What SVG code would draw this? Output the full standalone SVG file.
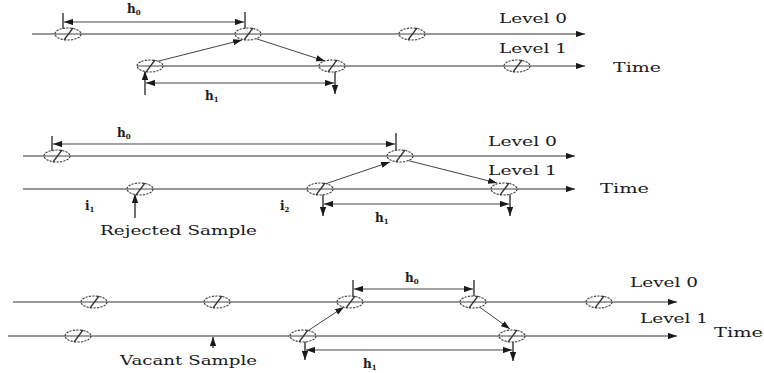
<svg xmlns="http://www.w3.org/2000/svg" width="764" height="373" viewBox="0 0 764 373">
  <defs>
    <marker id="ah" viewBox="0 0 10 7" refX="10" refY="3.5" markerWidth="9" markerHeight="6.5" markerUnits="userSpaceOnUse" orient="auto-start-reverse">
      <path d="M0,0 L10,3.5 L0,7 z" fill="#1a1a1a"/>
    </marker>
    <!-- sample glyph: dashed ellipse with a slash -->
    <g id="sample">
      <ellipse cx="0" cy="0" rx="13" ry="6" fill="#fff" stroke="#444" stroke-width="1.2" stroke-dasharray="2.2 1.2"/>
      <line x1="-13" y1="0" x2="13" y2="0" stroke="#444" stroke-width="1"/>
      <line x1="-4" y1="6" x2="5" y2="-6" stroke="#333" stroke-width="1.3"/>
    </g>
  </defs>
  <style>
    .axis { stroke: #333; stroke-width: 1.2; fill: none; }
    .dim { stroke: #444; stroke-width: 1; fill: none; }
    .tick { stroke: #222; stroke-width: 1.3; fill: none; }
    .lbl { font-family: "DejaVu Serif", "Liberation Serif", serif; font-size: 12.5px; fill: #1a1a1a; }
    .sym { font-family: "DejaVu Serif", "Liberation Serif", serif; font-size: 12px; font-weight: bold; fill: #1a1a1a; }
    .sub { font-size: 7px; }
  </style>
  <rect width="764" height="373" fill="#fff"/>

  <!-- time axes and all connectors -->
  <g id="connectors">
    <!-- panel 1 -->
    <line class="axis" x1="32" y1="34" x2="585" y2="34" marker-end="url(#ah)"/>
    <line class="axis" x1="137" y1="66" x2="585" y2="66" marker-end="url(#ah)"/>
    <line class="tick" x1="63" y1="13" x2="63" y2="30"/>
    <line class="tick" x1="245" y1="12" x2="245" y2="29"/>
    <line class="dim" x1="64" y1="22" x2="244" y2="22" marker-start="url(#ah)" marker-end="url(#ah)"/>
    <line class="dim" x1="155" y1="62" x2="242" y2="40" marker-end="url(#ah)"/>
    <line class="dim" x1="254" y1="38" x2="325" y2="61" marker-end="url(#ah)"/>
    <line class="tick" x1="145" y1="95" x2="145" y2="71" marker-end="url(#ah)"/>
    <line class="dim" x1="146" y1="83" x2="334" y2="83" marker-start="url(#ah)" marker-end="url(#ah)"/>
    <line class="tick" x1="335" y1="70" x2="335" y2="94" marker-end="url(#ah)"/>

    <!-- panel 2 -->
    <line class="axis" x1="23" y1="156" x2="575" y2="156" marker-end="url(#ah)"/>
    <line class="axis" x1="23" y1="189" x2="575" y2="189" marker-end="url(#ah)"/>
    <line class="tick" x1="52" y1="136" x2="52" y2="151"/>
    <line class="tick" x1="396" y1="133" x2="396" y2="150"/>
    <line class="dim" x1="53" y1="144" x2="395" y2="144" marker-start="url(#ah)" marker-end="url(#ah)"/>
    <line class="dim" x1="322" y1="185" x2="390" y2="162" marker-end="url(#ah)"/>
    <line class="dim" x1="406" y1="160" x2="497" y2="183" marker-end="url(#ah)"/>
    <line class="tick" x1="135" y1="218" x2="135" y2="194" marker-end="url(#ah)"/>
    <line class="tick" x1="323" y1="190" x2="323" y2="216" marker-end="url(#ah)"/>
    <line class="dim" x1="324" y1="204" x2="509" y2="204" marker-start="url(#ah)" marker-end="url(#ah)"/>
    <line class="tick" x1="510" y1="190" x2="510" y2="216" marker-end="url(#ah)"/>

    <!-- panel 3 -->
    <line class="axis" x1="13" y1="302" x2="677" y2="302" marker-end="url(#ah)"/>
    <line class="axis" x1="8" y1="336" x2="677" y2="336" marker-end="url(#ah)"/>
    <line class="tick" x1="353" y1="280" x2="353" y2="297"/>
    <line class="tick" x1="474" y1="280" x2="474" y2="297"/>
    <line class="dim" x1="354" y1="289" x2="473" y2="289" marker-start="url(#ah)" marker-end="url(#ah)"/>
    <line class="dim" x1="306" y1="332" x2="344" y2="307" stroke-width="1.3" marker-end="url(#ah)"/>
    <line class="dim" x1="478" y1="306" x2="510" y2="329" stroke-width="1.3" marker-end="url(#ah)"/>
    <line class="tick" x1="213" y1="348" x2="213" y2="337" marker-end="url(#ah)"/>
    <line class="tick" x1="305" y1="338" x2="305" y2="360" marker-end="url(#ah)"/>
    <line class="dim" x1="306" y1="350" x2="512" y2="350" marker-start="url(#ah)" marker-end="url(#ah)"/>
    <line class="tick" x1="513" y1="338" x2="513" y2="361" marker-end="url(#ah)"/>
  </g>

  <!-- panel 1 samples -->
  <g id="p1-l0-s1"><use href="#sample" x="68" y="34"/></g>
  <g id="p1-l0-s2"><use href="#sample" x="248" y="34"/></g>
  <g id="p1-l0-s3"><use href="#sample" x="412" y="34"/></g>
  <g id="p1-l1-s1"><use href="#sample" x="150" y="66"/></g>
  <g id="p1-l1-s2"><use href="#sample" x="332" y="66"/></g>
  <g id="p1-l1-s3"><use href="#sample" x="517" y="66"/></g>

  <!-- panel 2 samples -->
  <g id="p2-l0-s1"><use href="#sample" x="57" y="156"/></g>
  <g id="p2-l0-s2"><use href="#sample" x="400" y="156"/></g>
  <g id="p2-l1-s1"><use href="#sample" x="140" y="189"/></g>
  <g id="p2-l1-s2"><use href="#sample" x="320" y="189"/></g>
  <g id="p2-l1-s3"><use href="#sample" x="504" y="189"/></g>

  <!-- panel 3 samples -->
  <g id="p3-l0-s1"><use href="#sample" x="94" y="302"/></g>
  <g id="p3-l0-s2"><use href="#sample" x="217" y="302"/></g>
  <g id="p3-l0-s3"><use href="#sample" x="350" y="302"/></g>
  <g id="p3-l0-s4"><use href="#sample" x="473" y="302"/></g>
  <g id="p3-l0-s5"><use href="#sample" x="599" y="302"/></g>
  <g id="p3-l1-s1"><use href="#sample" x="78" y="336"/></g>
  <g id="p3-l1-s2"><use href="#sample" x="303" y="336"/></g>
  <g id="p3-l1-s3"><use href="#sample" x="512" y="336"/></g>

  <!-- labels -->
  <g id="labels-1">
    <text class="sym" x="127" y="13">h<tspan class="sub" dy="2">0</tspan></text>
    <text class="sym" x="205" y="100">h<tspan class="sub" dy="2">1</tspan></text>
    <text class="lbl" x="499" y="23" textLength="68" lengthAdjust="spacingAndGlyphs">Level 0</text>
    <text class="lbl" x="499" y="53" textLength="68" lengthAdjust="spacingAndGlyphs">Level 1</text>
    <text class="lbl" x="613" y="72" textLength="48" lengthAdjust="spacingAndGlyphs">Time</text>
  </g>
  <g id="labels-2">
    <text class="sym" x="117" y="137">h<tspan class="sub" dy="2">0</tspan></text>
    <text class="sym" x="375" y="222">h<tspan class="sub" dy="2">1</tspan></text>
    <text class="sym" x="85" y="210">i<tspan class="sub" dy="2">1</tspan></text>
    <text class="sym" x="280" y="210">i<tspan class="sub" dy="2">2</tspan></text>
    <text class="lbl" x="100" y="235" textLength="157" lengthAdjust="spacingAndGlyphs">Rejected Sample</text>
    <text class="lbl" x="488" y="146" textLength="69" lengthAdjust="spacingAndGlyphs">Level 0</text>
    <text class="lbl" x="488" y="175" textLength="69" lengthAdjust="spacingAndGlyphs">Level 1</text>
    <text class="lbl" x="600" y="193" textLength="49" lengthAdjust="spacingAndGlyphs">Time</text>
  </g>
  <g id="labels-3">
    <text class="sym" x="405" y="282">h<tspan class="sub" dy="2">0</tspan></text>
    <text class="sym" x="363" y="368">h<tspan class="sub" dy="2">1</tspan></text>
    <text class="lbl" x="120" y="365" textLength="137" lengthAdjust="spacingAndGlyphs">Vacant Sample</text>
    <text class="lbl" x="630" y="287" textLength="68" lengthAdjust="spacingAndGlyphs">Level 0</text>
    <text class="lbl" x="640" y="323" textLength="68" lengthAdjust="spacingAndGlyphs">Level 1</text>
    <text class="lbl" x="714" y="337" textLength="49" lengthAdjust="spacingAndGlyphs">Time</text>
  </g>
</svg>
